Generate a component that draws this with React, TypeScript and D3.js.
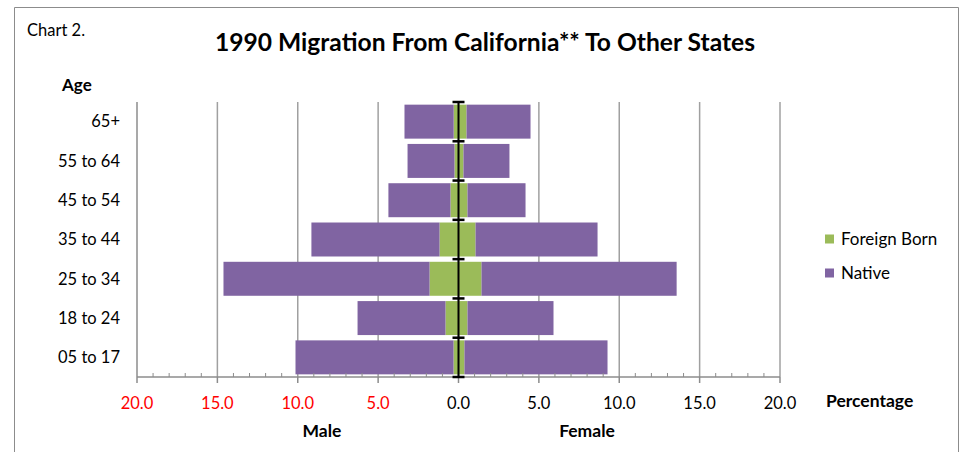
import React, { useRef, useEffect } from "react";
import * as d3 from "d3";

// age groups, bottom to top
const ageGroups = ["05 to 17", "18 to 24", "25 to 34", "35 to 44", "45 to 54", "55 to 64", "65+"];
const maleForeign = [0.31, 0.81, 1.8, 1.18, 0.5, 0.25, 0.3];
const maleNative = [9.83, 5.47, 12.82, 7.97, 3.86, 2.92, 3.06];
const femaleForeign = [0.37, 0.56, 1.43, 1.06, 0.56, 0.31, 0.5];
const femaleNative = [8.9, 5.35, 12.14, 7.59, 3.61, 2.86, 3.98];
const majorTicks = [-20, -15, -10, -5, 0, 5, 10, 15, 20];
const seriesNames = ["Foreign Born", "Native"];

const W = 968;
const H = 452;
const FONT = "Lato, 'Open Sans', sans-serif";

export default function App() {
  const ref = useRef<SVGSVGElement>(null);

  useEffect(() => {
    const svg = d3.select(ref.current);
    svg.selectAll("*").remove();

    const color = d3.scaleOrdinal<string>().domain(seriesNames).range(["#9BBB59", "#8064A2"]);

    const x = d3.scaleLinear().domain([-20, 20]).range([137, 780]);
    const y = d3
      .scaleBand()
      .domain(ageGroups.slice().reverse())
      .range([102, 377])
      .paddingInner(0.135)
      .paddingOuter(0.0675);
    const top = 102;
    const bottom = 377;

    // outer frame
    svg.append("path")
      .attr("d", `M14.5,${H} V7.5 H958.5 V${H}`)
      .attr("fill", "none")
      .attr("stroke", "#8c8c8c")
      .attr("stroke-width", 1);

    svg.append("text").text("Chart 2.")
      .attr("x", 27).attr("y", 36)
      .style("font-family", FONT).style("font-size", "16.5px");

    svg.append("text").text("1990 Migration From California** To Other States")
      .attr("x", 485).attr("y", 51)
      .attr("text-anchor", "middle")
      .attr("textLength", 540)
      .attr("lengthAdjust", "spacingAndGlyphs")
      .style("font-family", FONT).style("font-size", "25px").style("font-weight", "bold");

    svg.append("text").text("Age")
      .attr("x", 62).attr("y", 91)
      .style("font-family", FONT).style("font-size", "17px").style("font-weight", "bold");

    // gridlines
    svg.append("g").selectAll("line")
      .data(majorTicks.filter((d) => d !== -20))
      .enter().append("line")
      .attr("x1", (d) => x(d)).attr("x2", (d) => x(d))
      .attr("y1", top).attr("y2", bottom)
      .attr("stroke", "#a0a0a0").attr("stroke-width", 1.5);

    // bars
    const rows = ageGroups.map((a, i) => ({
      age: a,
      mf: maleForeign[i], mn: maleNative[i],
      ff: femaleForeign[i], fn: femaleNative[i],
    }));
    const segs: { age: string; s: string; x0: number; x1: number }[] = [];
    rows.forEach((r) => {
      segs.push({ age: r.age, s: "Foreign Born", x0: -r.mf, x1: 0 });
      segs.push({ age: r.age, s: "Native", x0: -(r.mf + r.mn), x1: -r.mf });
      segs.push({ age: r.age, s: "Foreign Born", x0: 0, x1: r.ff });
      segs.push({ age: r.age, s: "Native", x0: r.ff, x1: r.ff + r.fn });
    });
    svg.append("g").selectAll("rect")
      .data(segs)
      .enter().append("rect")
      .attr("x", (d) => x(d.x0))
      .attr("width", (d) => x(d.x1) - x(d.x0))
      .attr("y", (d) => y(d.age)!)
      .attr("height", y.bandwidth())
      .attr("fill", (d) => color(d.s));

    // axes lines
    svg.append("line")
      .attr("x1", x(-20)).attr("x2", x(-20)).attr("y1", top).attr("y2", bottom)
      .attr("stroke", "#8c8c8c").attr("stroke-width", 1.5);
    svg.append("line")
      .attr("x1", x(-20)).attr("x2", x(20)).attr("y1", bottom).attr("y2", bottom)
      .attr("stroke", "#8c8c8c").attr("stroke-width", 1.5);

    const minor = d3.range(-20, 21).filter((d) => d % 5 !== 0);
    svg.append("g").selectAll("line")
      .data(minor)
      .enter().append("line")
      .attr("x1", (d) => x(d)).attr("x2", (d) => x(d))
      .attr("y1", bottom - 4).attr("y2", bottom)
      .attr("stroke", "#8c8c8c").attr("stroke-width", 1);
    svg.append("g").selectAll("line")
      .data(majorTicks)
      .enter().append("line")
      .attr("x1", (d) => x(d)).attr("x2", (d) => x(d))
      .attr("y1", bottom).attr("y2", bottom + 6)
      .attr("stroke", "#8c8c8c").attr("stroke-width", 1.5);

    // center line with caps at each band boundary
    svg.append("line")
      .attr("x1", x(0)).attr("x2", x(0)).attr("y1", top).attr("y2", bottom)
      .attr("stroke", "#000").attr("stroke-width", 2);
    const caps = ageGroups.map((a) => y(a)! - (y.step() - y.bandwidth()) / 2).concat([bottom]);
    svg.append("g").selectAll("line")
      .data(caps)
      .enter().append("line")
      .attr("x1", x(0) - 6).attr("x2", x(0) + 6)
      .attr("y1", (d) => d).attr("y2", (d) => d)
      .attr("stroke", "#000").attr("stroke-width", 2.5);

    // category labels
    svg.append("g").selectAll("text")
      .data(ageGroups)
      .enter().append("text")
      .text((d) => d)
      .attr("x", 120)
      .attr("y", (d) => y(d)! + y.bandwidth() / 2)
      .attr("dy", "0.35em")
      .attr("text-anchor", "end")
      .style("font-family", FONT).style("font-size", "16.5px");

    // x tick labels
    svg.append("g").selectAll("text")
      .data(majorTicks)
      .enter().append("text")
      .text((d) => Math.abs(d).toFixed(1))
      .attr("x", (d) => x(d))
      .attr("y", 403)
      .attr("dy", "0.35em")
      .attr("text-anchor", "middle")
      .attr("fill", (d) => (d < 0 ? "#ff0000" : "#000"))
      .style("font-family", FONT).style("font-size", "16.5px");

    svg.append("text").text("Percentage")
      .attr("x", 826).attr("y", 401).attr("dy", "0.35em")
      .style("font-family", FONT).style("font-size", "17.5px").style("font-weight", "bold");
    svg.append("text").text("Male")
      .attr("x", 322).attr("y", 431).attr("dy", "0.35em").attr("text-anchor", "middle")
      .style("font-family", FONT).style("font-size", "17.5px").style("font-weight", "bold");
    svg.append("text").text("Female")
      .attr("x", 587).attr("y", 431).attr("dy", "0.35em").attr("text-anchor", "middle")
      .style("font-family", FONT).style("font-size", "17.5px").style("font-weight", "bold");

    // legend
    const legendG = svg.selectAll(".legend")
      .data(seriesNames)
      .enter().append("g")
      .attr("class", "legend")
      .attr("transform", (d, i) => "translate(825," + (239 + i * 34) + ")");
    legendG.append("rect")
      .attr("x", 0).attr("y", -4.5)
      .attr("width", 9).attr("height", 9)
      .attr("fill", (d) => color(d));
    legendG.append("text")
      .text((d) => d)
      .attr("x", 16).attr("dy", "0.35em")
      .style("font-family", FONT).style("font-size", "17px");
  }, []);

  return (
    <svg ref={ref} width={W} height={H} style={{ position: "absolute", left: 0, top: 0, background: "#fff" }} />
  );
}
